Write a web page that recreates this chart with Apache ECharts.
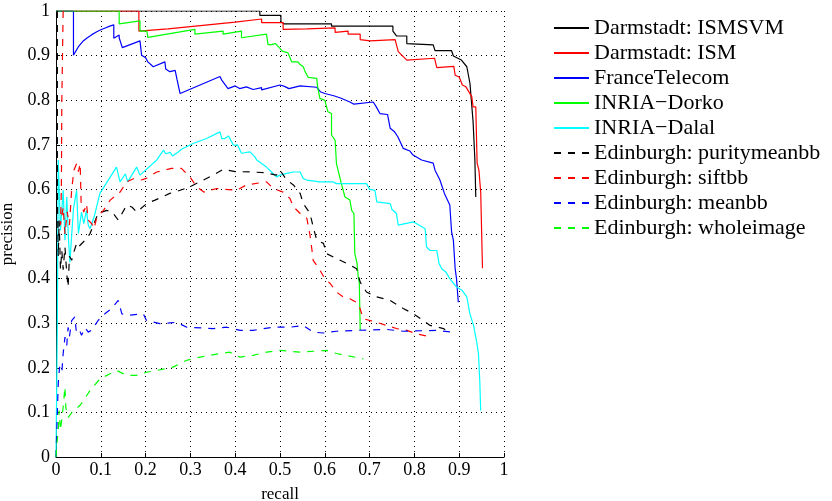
<!DOCTYPE html>
<html><head><meta charset="utf-8">
<script src="https://cdn.jsdelivr.net/npm/echarts@6/dist/echarts.min.js"></script>
<style>html,body{margin:0;padding:0;background:#fff}#c{width:832px;height:501px}</style>
</head><body><div id="c"></div>
<script>
const seriesNames = ["Darmstadt: ISMSVM","Darmstadt: ISM","FranceTelecom","INRIA\u2212Dorko","INRIA\u2212Dalal","Edinburgh: puritymeanbb","Edinburgh: siftbb","Edinburgh: meanbb","Edinburgh: wholeimage"];
const tickValues = [0,0.1,0.2,0.3,0.4,0.5,0.6,0.7,0.8,0.9,1];

const ismsvm = [[0,1],[0.455,1],[0.455,0.99],[0.502,0.99],[0.502,0.976],[0.51,0.971],[0.55,0.971],[0.615,0.971],[0.615,0.966],[0.667,0.966],[0.667,0.963],[0.752,0.966],[0.752,0.955],[0.76,0.944],[0.783,0.944],[0.783,0.927],[0.842,0.924],[0.846,0.911],[0.883,0.911],[0.887,0.899],[0.897,0.894],[0.905,0.89],[0.917,0.875],[0.924,0.838],[0.931,0.752],[0.935,0.666],[0.937,0.583]];
const ism = [[0,1],[0.185,1],[0.185,0.955],[0.25,0.96],[0.30,0.965],[0.35,0.97],[0.40,0.975],[0.459,0.982],[0.459,0.974],[0.507,0.974],[0.507,0.959],[0.56,0.96],[0.623,0.962],[0.623,0.952],[0.652,0.955],[0.652,0.948],[0.679,0.948],[0.679,0.936],[0.701,0.933],[0.757,0.936],[0.76,0.924],[0.764,0.909],[0.783,0.89],[0.845,0.894],[0.85,0.873],[0.888,0.876],[0.891,0.856],[0.90,0.852],[0.907,0.834],[0.915,0.83],[0.928,0.808],[0.931,0.785],[0.937,0.785],[0.94,0.659],[0.944,0.643],[0.948,0.594],[0.952,0.423]];
const franceTelecom = [[0,1],[0.039,1],[0.039,0.901],[0.05,0.92],[0.06,0.932],[0.07,0.94],[0.08,0.947],[0.09,0.953],[0.10,0.958],[0.11,0.962],[0.12,0.966],[0.129,0.969],[0.129,0.939],[0.141,0.946],[0.141,0.94],[0.148,0.918],[0.1875,0.933],[0.191,0.901],[0.2,0.895],[0.205,0.886],[0.217,0.875],[0.243,0.886],[0.245,0.87],[0.254,0.864],[0.266,0.867],[0.27,0.847],[0.277,0.815],[0.366,0.853],[0.37,0.845],[0.384,0.826],[0.40,0.832],[0.41,0.826],[0.425,0.83],[0.44,0.824],[0.459,0.828],[0.459,0.823],[0.5,0.834],[0.51,0.831],[0.52,0.826],[0.545,0.832],[0.582,0.829],[0.59,0.819],[0.60,0.815],[0.62,0.81],[0.635,0.805],[0.656,0.796],[0.665,0.791],[0.708,0.796],[0.715,0.785],[0.723,0.77],[0.74,0.768],[0.746,0.737],[0.755,0.73],[0.763,0.718],[0.775,0.692],[0.79,0.686],[0.797,0.677],[0.816,0.666],[0.842,0.659],[0.846,0.643],[0.857,0.621],[0.867,0.591],[0.879,0.565],[0.883,0.505],[0.887,0.486],[0.891,0.422],[0.894,0.40],[0.898,0.347]];
const inriaDorko = [[0,1],[0.141,1],[0.141,0.971],[0.1875,0.978],[0.1875,0.955],[0.203,0.955],[0.205,0.941],[0.31,0.959],[0.31,0.948],[0.373,0.955],[0.373,0.948],[0.414,0.955],[0.414,0.94],[0.47,0.948],[0.473,0.925],[0.478,0.924],[0.49,0.927],[0.5,0.916],[0.505,0.91],[0.518,0.906],[0.526,0.886],[0.54,0.886],[0.545,0.88],[0.552,0.875],[0.556,0.864],[0.563,0.851],[0.582,0.849],[0.584,0.83],[0.589,0.804],[0.60,0.80],[0.607,0.774],[0.615,0.77],[0.615,0.722],[0.623,0.71],[0.626,0.658],[0.63,0.655],[0.637,0.613],[0.645,0.583],[0.656,0.576],[0.66,0.553],[0.665,0.546],[0.667,0.456],[0.672,0.434],[0.675,0.40],[0.677,0.392],[0.679,0.284]];
const inriaDalal = [[0,0],[0.003,0.3],[0.005,0.666],[0.01,0.508],[0.016,0.598],[0.02,0.486],[0.024,0.583],[0.028,0.486],[0.031,0.437],[0.039,0.557],[0.046,0.598],[0.05,0.501],[0.057,0.549],[0.062,0.523],[0.068,0.553],[0.072,0.52],[0.076,0.512],[0.085,0.538],[0.098,0.591],[0.135,0.65],[0.143,0.617],[0.155,0.635],[0.16,0.617],[0.18,0.65],[0.1875,0.632],[0.225,0.666],[0.24,0.688],[0.245,0.68],[0.255,0.683],[0.26,0.675],[0.273,0.684],[0.28,0.69],[0.306,0.703],[0.336,0.714],[0.366,0.729],[0.37,0.714],[0.377,0.714],[0.385,0.72],[0.396,0.699],[0.405,0.70],[0.414,0.681],[0.433,0.684],[0.444,0.673],[0.448,0.666],[0.47,0.65],[0.481,0.639],[0.492,0.628],[0.50,0.632],[0.515,0.636],[0.53,0.639],[0.545,0.639],[0.552,0.624],[0.56,0.621],[0.589,0.617],[0.618,0.617],[0.626,0.613],[0.693,0.613],[0.70,0.60],[0.712,0.598],[0.716,0.572],[0.746,0.568],[0.75,0.555],[0.76,0.546],[0.764,0.52],[0.798,0.527],[0.81,0.52],[0.824,0.512],[0.827,0.471],[0.835,0.463],[0.85,0.463],[0.855,0.434],[0.861,0.422],[0.87,0.415],[0.879,0.4],[0.894,0.381],[0.906,0.374],[0.917,0.359],[0.924,0.321],[0.932,0.295],[0.939,0.258],[0.943,0.232],[0.946,0.168],[0.948,0.104]];
const purityMeanbb = [[0.003,1],[0.003,0.6],[0.005,0.45],[0.007,0.53],[0.01,0.42],[0.013,0.463],[0.016,0.42],[0.02,0.471],[0.024,0.411],[0.027,0.381],[0.03,0.45],[0.035,0.441],[0.04,0.46],[0.046,0.479],[0.05,0.471],[0.065,0.486],[0.076,0.501],[0.094,0.546],[0.113,0.553],[0.125,0.55],[0.139,0.531],[0.158,0.565],[0.17,0.56],[0.18,0.549],[0.202,0.568],[0.221,0.576],[0.254,0.591],[0.277,0.598],[0.299,0.606],[0.321,0.617],[0.351,0.632],[0.373,0.645],[0.40,0.64],[0.44,0.639],[0.47,0.637],[0.492,0.632],[0.50,0.643],[0.515,0.621],[0.53,0.61],[0.545,0.591],[0.552,0.568],[0.567,0.546],[0.574,0.516],[0.582,0.486],[0.597,0.479],[0.604,0.456],[0.626,0.445],[0.649,0.434],[0.671,0.422],[0.679,0.392],[0.693,0.37],[0.716,0.359],[0.746,0.351],[0.775,0.333],[0.798,0.321],[0.82,0.306],[0.835,0.295],[0.865,0.288],[0.875,0.28]];
const siftbb = [[0.016,1],[0.013,0.8],[0.012,0.6],[0.01,0.52],[0.016,0.56],[0.02,0.5],[0.025,0.55],[0.03,0.52],[0.035,0.6],[0.04,0.643],[0.046,0.658],[0.05,0.64],[0.054,0.658],[0.056,0.572],[0.062,0.549],[0.068,0.568],[0.072,0.531],[0.08,0.523],[0.085,0.512],[0.091,0.538],[0.106,0.553],[0.121,0.576],[0.143,0.594],[0.158,0.617],[0.173,0.624],[0.19,0.621],[0.2,0.624],[0.225,0.639],[0.258,0.647],[0.28,0.647],[0.299,0.628],[0.314,0.606],[0.33,0.594],[0.359,0.602],[0.403,0.598],[0.425,0.61],[0.47,0.617],[0.485,0.602],[0.507,0.594],[0.522,0.58],[0.53,0.561],[0.545,0.546],[0.56,0.535],[0.567,0.497],[0.571,0.467],[0.574,0.441],[0.582,0.43],[0.589,0.419],[0.6,0.4],[0.612,0.389],[0.626,0.37],[0.641,0.359],[0.656,0.355],[0.675,0.344],[0.686,0.31],[0.716,0.302],[0.738,0.295],[0.76,0.288],[0.783,0.284],[0.805,0.276],[0.838,0.269]];
const meanbb = [[0,0],[0.003,0.1],[0.005,0.164],[0.008,0.202],[0.013,0.19],[0.016,0.232],[0.02,0.269],[0.024,0.25],[0.027,0.291],[0.03,0.27],[0.035,0.306],[0.042,0.314],[0.045,0.284],[0.05,0.29],[0.057,0.273],[0.065,0.29],[0.072,0.28],[0.08,0.285],[0.094,0.306],[0.109,0.321],[0.124,0.333],[0.139,0.351],[0.147,0.321],[0.165,0.318],[0.195,0.321],[0.202,0.306],[0.232,0.299],[0.269,0.302],[0.292,0.291],[0.351,0.288],[0.381,0.291],[0.411,0.284],[0.44,0.284],[0.485,0.291],[0.522,0.291],[0.552,0.295],[0.574,0.28],[0.597,0.278],[0.626,0.282],[0.671,0.284],[0.738,0.286],[0.775,0.282],[0.85,0.284],[0.883,0.28]];
const wholeimage = [[0,0],[0.002,0.03],[0.005,0.059],[0.007,0.104],[0.01,0.06],[0.016,0.112],[0.02,0.157],[0.022,0.11],[0.027,0.089],[0.039,0.104],[0.054,0.116],[0.076,0.149],[0.098,0.175],[0.135,0.194],[0.158,0.183],[0.18,0.183],[0.202,0.19],[0.225,0.194],[0.262,0.202],[0.292,0.217],[0.321,0.224],[0.366,0.232],[0.388,0.235],[0.411,0.224],[0.44,0.228],[0.47,0.235],[0.5,0.239],[0.545,0.235],[0.604,0.239],[0.626,0.232],[0.656,0.226],[0.686,0.22]];

const seriesData = [ismsvm, ism, franceTelecom, inriaDorko, inriaDalal, purityMeanbb, siftbb, meanbb, wholeimage];
const colors = ['#000000','#ff0000','#0000ff','#00ff00','#00ffff','#000000','#ff0000','#0000ff','#00ff00'];
const dashed = [false,false,false,false,false,true,true,true,true];

const FONT = 'Liberation Serif, Times New Roman, serif';
const fmt = v => (v === 0 ? '0' : v === 1 ? '1' : v.toFixed(1));

const chart = echarts.init(document.getElementById('c'), null, {renderer: 'canvas'});
chart.setOption({
  animation: false,
  backgroundColor: '#fff',
  grid: {left: 56, right: 328, top: 11, bottom: 44, containLabel: false, outerBoundsMode: 'none'},
  xAxis: {
    type: 'value', min: 0, max: 1, interval: 0.1,
    name: 'recall', nameLocation: 'middle', nameGap: 29,
    nameTextStyle: {fontFamily: FONT, fontSize: 17, color: '#000'},
    axisLine: {show: true, lineStyle: {color: '#000', width: 1}},
    axisTick: {show: true, inside: true, length: 4, lineStyle: {color: '#000'}},
    axisLabel: {fontFamily: FONT, fontSize: 18, color: '#000', margin: 4, formatter: fmt},
    splitLine: {show: true, lineStyle: {color: '#000', width: 1, type: [1, 4]}}
  },
  yAxis: {
    type: 'value', min: 0, max: 1, interval: 0.1,
    name: 'precision', nameLocation: 'middle', nameGap: 40, nameRotate: 90,
    nameTextStyle: {fontFamily: FONT, fontSize: 17, color: '#000'},
    axisLine: {show: true, lineStyle: {color: '#000', width: 1}},
    axisTick: {show: true, inside: true, length: 4, lineStyle: {color: '#000'}},
    axisLabel: {fontFamily: FONT, fontSize: 18, color: '#000', margin: 6, formatter: fmt},
    splitLine: {show: true, lineStyle: {color: '#000', width: 1, type: [1, 4]}}
  },
  legend: {
    orient: 'vertical', left: 548, top: 12,
    itemWidth: 35, itemHeight: 14, itemGap: 3,
    itemStyle: {opacity: 0},
    textStyle: {fontFamily: FONT, fontSize: 22, color: '#000', lineHeight: 22},
    data: seriesNames
  },
  series: seriesNames.map((n, i) => ({
    name: n, type: 'line', data: seriesData[i],
    showSymbol: false, symbol: 'none', clip: true,
    color: colors[i],
    lineStyle: {color: colors[i], width: 1.2, type: dashed[i] ? [7, 7] : 'solid'}
  }))
});
</script></body></html>
